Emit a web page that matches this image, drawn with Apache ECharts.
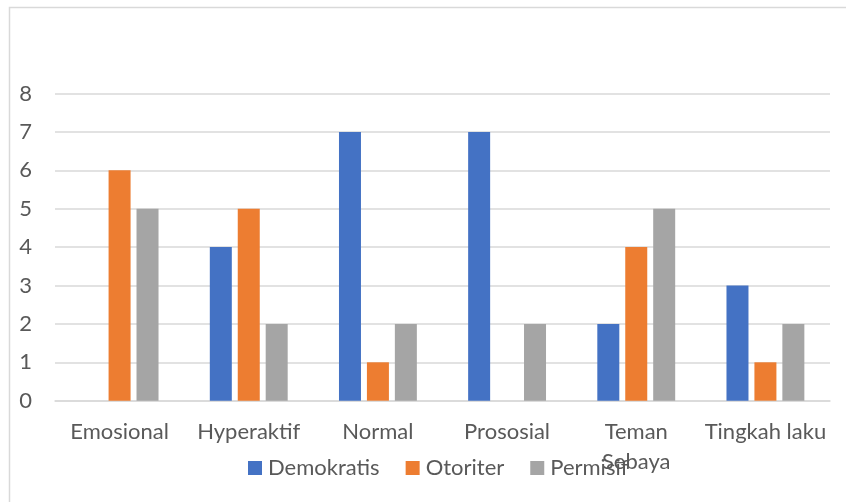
<!DOCTYPE html>
<html>
<head>
<meta charset="utf-8">
<script src="https://cdn.jsdelivr.net/npm/echarts@6/dist/echarts.min.js"></script>
<style>
html,body{margin:0;padding:0;background:#fff;}
#c{width:846px;height:502px;}
</style>
</head>
<body>
<div id="c"></div>
<script>
var categories = ['Emosional', 'Hyperaktif', 'Normal', 'Prososial', 'Teman\nSebaya', 'Tingkah laku'];
var demokratis = [0, 4, 7, 7, 2, 3];
var otoriter = [6, 5, 1, 0, 4, 1];
var permisif = [5, 2, 2, 2, 5, 2];
var seriesNames = ['Demokratis', 'Otoriter', 'Permisif'];
var yTicks = [0, 1, 2, 3, 4, 5, 6, 7, 8];

var FONT = 'Lato';
var TXT = '#595959';
var chart = echarts.init(document.getElementById('c'), null, {renderer: 'canvas'});
function mk(name, data, color) {
  return {
    name: name, type: 'bar', data: data,
    barWidth: 22, barGap: '27%',
    itemStyle: {color: color},
    emphasis: {disabled: true}
  };
}
chart.setOption({
  animation: false,
  backgroundColor: '#fff',
  graphic: [{
    type: 'rect', silent: true,
    shape: {x: 9.5, y: 7.5, width: 900, height: 600},
    style: {fill: 'none', stroke: '#d9d9d9', lineWidth: 1.5}
  }],
  grid: {left: 55, right: 16, top: 93.5, bottom: 101.3, containLabel: false},
  legend: {
    data: seriesNames,
    top: 452,
    left: 243,
    itemWidth: 14, itemHeight: 14, itemGap: 26,
    icon: 'rect',
    textStyle: {fontFamily: FONT, fontSize: 22, color: TXT, padding: [0, 0, 0, 1]}
  },
  xAxis: {
    type: 'category',
    data: categories,
    axisLine: {lineStyle: {color: '#d9d9d9', width: 1.5}},
    axisTick: {show: false},
    axisLabel: {fontFamily: FONT, fontSize: 22, color: TXT, margin: 16, lineHeight: 30, interval: 0}
  },
  yAxis: {
    type: 'value',
    min: yTicks[0], max: yTicks[yTicks.length - 1], interval: 1,
    axisLine: {show: false},
    axisTick: {show: false},
    splitLine: {lineStyle: {color: '#d9d9d9', width: 1.5}},
    axisLabel: {fontFamily: FONT, fontSize: 22, color: TXT, margin: 23}
  },
  series: [
    mk(seriesNames[0], demokratis, '#4472C4'),
    mk(seriesNames[1], otoriter, '#ED7D31'),
    mk(seriesNames[2], permisif, '#A5A5A5')
  ]
});
</script>
</body>
</html>
